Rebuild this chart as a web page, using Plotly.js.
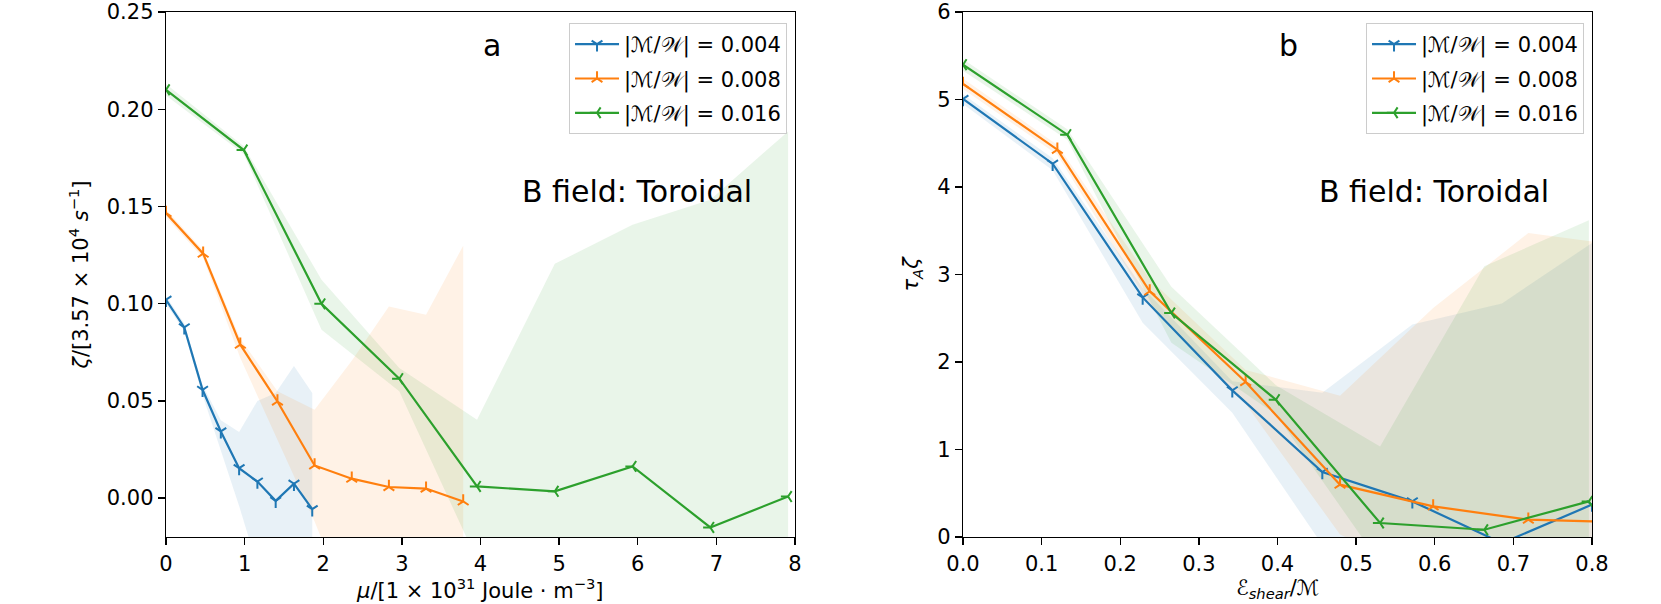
<!DOCTYPE html>
<html>
<head>
<meta charset="utf-8">
<script src="https://cdn.plot.ly/plotly-3.0.1.min.js"></script>
<style>html,body{margin:0;padding:0;background:#fff;}#chart{width:1661px;height:604px;}</style>
</head>
<body>
<div id="chart"></div>
<script>
// ---------- Panel a : zeta vs mu ----------
const aBlueX = [0, 0.2325, 0.465, 0.6975, 0.93, 1.1625, 1.395, 1.6275, 1.86];
const aBlueY = [0.102, 0.0878, 0.0557, 0.0343, 0.0154, 0.0085, -0.0014, 0.0074, -0.0057];
const aBlueLo = [0.100, 0.0858, 0.053, 0.024, -0.004, -0.035, -0.06, -0.06, -0.07];
const aBlueHi = [0.104, 0.0898, 0.058, 0.040, 0.034, 0.050, 0.054, 0.068, 0.054];

const aOrangeX = [0, 0.4725, 0.945, 1.4175, 1.89, 2.3625, 2.835, 3.3075, 3.78];
const aOrangeY = [0.1466, 0.1257, 0.0789, 0.0497, 0.0168, 0.0100, 0.0057, 0.0049, -0.0017];
const aOrangeLo = [0.1446, 0.1235, 0.072, 0.030, -0.012, -0.06, -0.08, -0.08, -0.08];
const aOrangeHi = [0.1486, 0.1275, 0.082, 0.055, 0.0454, 0.0707, 0.0986, 0.0943, 0.1298];

const aGreenX = [0, 0.989, 1.978, 2.967, 3.956, 4.945, 5.934, 6.923, 7.912];
const aGreenY = [0.210, 0.179, 0.0999, 0.0614, 0.006, 0.0035, 0.0163, -0.0151, 0.0008];
const aGreenLo = [0.207, 0.177, 0.0866, 0.0549, -0.032, -0.06, -0.06, -0.06, -0.06];
const aGreenHi = [0.213, 0.181, 0.1123, 0.0669, 0.0403, 0.1205, 0.1406, 0.1535, 0.1886];

// ---------- Panel b : tau_A zeta vs E_shear/M ----------
const bBlueX = [0, 0.114, 0.2285, 0.3425, 0.457, 0.5715, 0.6855, 0.8];
const bBlueY = [5.006, 4.266, 2.738, 1.676, 0.743, 0.407, -0.07, 0.37];
const bBlueLo = [4.95, 4.19, 2.45, 1.42, -0.09, -0.5, -0.5, -0.5];
const bBlueHi = [5.06, 4.33, 2.85, 1.78, 1.65, 2.43, 2.67, 3.36];

const bOrangeX = [0, 0.12, 0.2375, 0.3595, 0.4795, 0.598, 0.719, 0.839];
const bOrangeY = [5.177, 4.426, 2.807, 1.771, 0.598, 0.35, 0.198, 0.168];
const bOrangeLo = [5.12, 4.37, 2.65, 1.52, 0.03, -0.5, -0.5, -0.5];
const bOrangeHi = [5.24, 4.48, 2.95, 1.91, 1.615, 2.617, 3.474, 3.33];

const bGreenX = [0, 0.1327, 0.265, 0.398, 0.5305, 0.663, 0.796];
const bGreenY = [5.398, 4.598, 2.56, 1.569, 0.16, 0.083, 0.407];
const bGreenLo = [5.33, 4.54, 2.22, 1.40, -0.3, -0.5, -0.5];
const bGreenHi = [5.46, 4.66, 2.86, 1.735, 1.035, 3.093, 3.62];

const seriesNames = ['|ℳ/𝒲| = 0.004', '|ℳ/𝒲| = 0.008', '|ℳ/𝒲| = 0.016'];
const xTitleA = '<i>μ</i>/[1 × 10<sup>31</sup> Joule · m<sup>−3</sup>]';
const yTitleA = '<i>ζ</i>/[3.57 × 10<sup>4</sup> <i>s</i><sup>−1</sup>]';
const xTitleB = 'ℰ<sub><i>shear</i></sub>/ℳ';
const yTitleB = '<i>τ<sub>A</sub>ζ</i>';
const colors = ['#1f77b4', '#ff7f0e', '#2ca02c'];
const fills = ['rgba(31,119,180,0.1)', 'rgba(255,127,14,0.1)', 'rgba(44,160,44,0.1)'];
const symbols = ['y-down', 'y-up', 'y-left'];

const panels = [
  {xa: 'x', ya: 'y', legend: 'legend', data: [
    [aBlueX, aBlueY, aBlueLo, aBlueHi],
    [aOrangeX, aOrangeY, aOrangeLo, aOrangeHi],
    [aGreenX, aGreenY, aGreenLo, aGreenHi]]},
  {xa: 'x2', ya: 'y2', legend: 'legend2', data: [
    [bBlueX, bBlueY, bBlueLo, bBlueHi],
    [bOrangeX, bOrangeY, bOrangeLo, bOrangeHi],
    [bGreenX, bGreenY, bGreenLo, bGreenHi]]}
];

const traces = [];
panels.forEach(p => {
  p.data.forEach((d, i) => {
    traces.push({x: d[0], y: d[2], xaxis: p.xa, yaxis: p.ya, mode: 'lines',
      line: {width: 0, color: 'rgba(0,0,0,0)'}, showlegend: false, hoverinfo: 'skip'});
    traces.push({x: d[0], y: d[3], xaxis: p.xa, yaxis: p.ya, mode: 'lines',
      line: {width: 0, color: 'rgba(0,0,0,0)'}, fill: 'tonexty', fillcolor: fills[i],
      showlegend: false, hoverinfo: 'skip'});
  });
});
panels.forEach(p => {
  p.data.forEach((d, i) => {
    traces.push({x: d[0], y: d[1], xaxis: p.xa, yaxis: p.ya, mode: 'lines+markers',
      name: seriesNames[i], legend: p.legend, legendgroup: p.legend + i,
      line: {color: colors[i], width: 2.2},
      marker: {symbol: symbols[i], size: 9, color: colors[i], line: {color: colors[i], width: 2}}});
  });
});

const fontFam = 'DejaVu Sans, Noto Sans, sans-serif';
const axisCommon = {
  showline: true, linecolor: '#000', linewidth: 1.3, mirror: true,
  ticks: 'outside', ticklen: 7, tickwidth: 1.3, tickcolor: '#000',
  showgrid: false, zeroline: false,
  tickfont: {family: fontFam, size: 21, color: '#000'}
};
const legendCommon = {
  bgcolor: 'rgba(255,255,255,0.8)', bordercolor: '#cccccc', borderwidth: 1,
  font: {family: fontFam, size: 21, color: '#000'},
  xanchor: 'right', yanchor: 'top', tracegroupgap: 4, itemwidth: 44
};
const annFont = {family: fontFam, size: 30, color: '#000'};
const titleFont = {family: fontFam, size: 21, color: '#000'};

const layout = {
  width: 1661, height: 604,
  margin: {l: 166, r: 69, t: 12, b: 67},
  paper_bgcolor: '#fff', plot_bgcolor: '#fff',
  font: {family: fontFam, color: '#000'},
  xaxis: Object.assign({}, axisCommon, {domain: [0, 0.44109], range: [0, 8], dtick: 1}),
  yaxis: Object.assign({}, axisCommon, {domain: [0, 1], range: [-0.02, 0.25], tickvals: [0, 0.05, 0.1, 0.15, 0.2, 0.25], tickformat: '.2f',
    title: {text: yTitleA, font: titleFont, standoff: 12}}),
  xaxis2: Object.assign({}, axisCommon, {domain: [0.55891, 1], range: [0, 0.8], dtick: 0.1, tickformat: '.1f', anchor: 'y2'}),
  yaxis2: Object.assign({}, axisCommon, {domain: [0, 1], range: [0, 6], dtick: 1, anchor: 'x2',
    title: {text: yTitleB, font: titleFont, standoff: 12}}),
  legend: Object.assign({}, legendCommon, {x: 0.4355, y: 0.979}),
  legend2: Object.assign({}, legendCommon, {x: 0.9944, y: 0.979}),
  annotations: [
    {text: xTitleA, xref: 'x domain', yref: 'paper', x: 0.5, y: -0.099, xanchor: 'center', yanchor: 'middle', showarrow: false, font: titleFont},
    {text: xTitleB, xref: 'x2 domain', yref: 'paper', x: 0.5, y: -0.099, xanchor: 'center', yanchor: 'middle', showarrow: false, font: titleFont},
    {text: 'a', xref: 'paper', yref: 'paper', x: 0.2286, y: 0.937, xanchor: 'center', yanchor: 'middle', showarrow: false, font: annFont},
    {text: 'b', xref: 'paper', yref: 'paper', x: 0.7875, y: 0.937, xanchor: 'center', yanchor: 'middle', showarrow: false, font: annFont},
    {text: 'B field: Toroidal', xref: 'paper', yref: 'paper', x: 0.3306, y: 0.659, xanchor: 'center', yanchor: 'middle', showarrow: false, font: annFont},
    {text: 'B field: Toroidal', xref: 'paper', yref: 'paper', x: 0.8895, y: 0.659, xanchor: 'center', yanchor: 'middle', showarrow: false, font: annFont}
  ],
  showlegend: true
};

Plotly.newPlot('chart', traces, layout, {displayModeBar: false, staticPlot: true});
</script>
</body>
</html>
